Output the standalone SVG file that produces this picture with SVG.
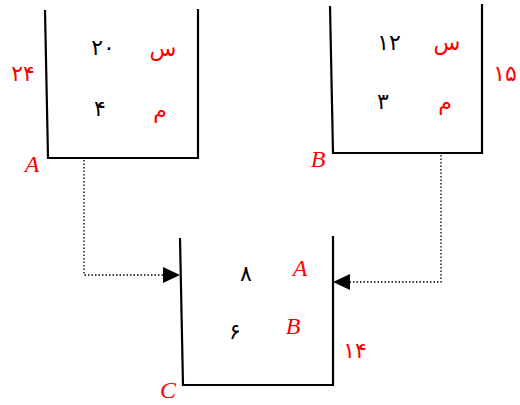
<svg xmlns="http://www.w3.org/2000/svg" width="520" height="405" viewBox="0 0 520 405">
  <defs>
    <style>
      .wall { fill: none; stroke: #000; stroke-width: 2.2; stroke-linejoin: miter; }
      .num { font-family: "DejaVu Sans", "Liberation Serif", serif; font-size: 22px; fill: #000; text-anchor: middle; }
      .lbl { font-family: "DejaVu Sans", "Liberation Serif", serif; font-size: 22px; fill: #ff0000; text-anchor: middle; }
      .tag { font-family: "Liberation Serif", serif; font-style: italic; font-size: 24px; fill: #ff0000; text-anchor: middle; }
      .link { fill: none; stroke: #000; stroke-width: 1.3; stroke-dasharray: 1.5 2; }
      .head { fill: #000; }
    </style>
  </defs>

  <g id="connectors">
    <path class="link" d="M84,160 V275 H163"/>
    <path class="head" d="M163,267 L180,275 L163,283 Z"/>
    <path class="link" d="M441,155 V282 H350"/>
    <path class="head" d="M350,274 L333,282 L350,290 Z"/>
  </g>

  <g id="tank-a">
    <path class="wall" d="M45,10 L48,158 H198 V9"/>
    <text class="num" x="103" y="55">۲۰</text>
    <text class="lbl" x="163" y="56">س</text>
    <text class="num" x="100" y="116">۴</text>
    <text class="lbl" x="160" y="118">م</text>
    <text class="lbl" x="23" y="81">۲۴</text>
    <text class="tag" x="32" y="172">A</text>
  </g>

  <g id="tank-b">
    <path class="wall" d="M330,6 L333,153 H482 V4"/>
    <text class="num" x="389" y="50">۱۲</text>
    <text class="lbl" x="447" y="50">س</text>
    <text class="num" x="383" y="109">۳</text>
    <text class="lbl" x="445" y="110">م</text>
    <text class="lbl" x="505" y="81">۱۵</text>
    <text class="tag" x="318" y="167">B</text>
  </g>

  <g id="tank-c">
    <path class="wall" d="M180,238 L183,385 H333 V236"/>
    <text class="num" x="246" y="281">۸</text>
    <text class="tag" x="300" y="276">A</text>
    <text class="num" x="235" y="339">۶</text>
    <text class="tag" x="293" y="334">B</text>
    <text class="lbl" x="355" y="358">۱۴</text>
    <text class="tag" x="168" y="398">C</text>
  </g>
</svg>
